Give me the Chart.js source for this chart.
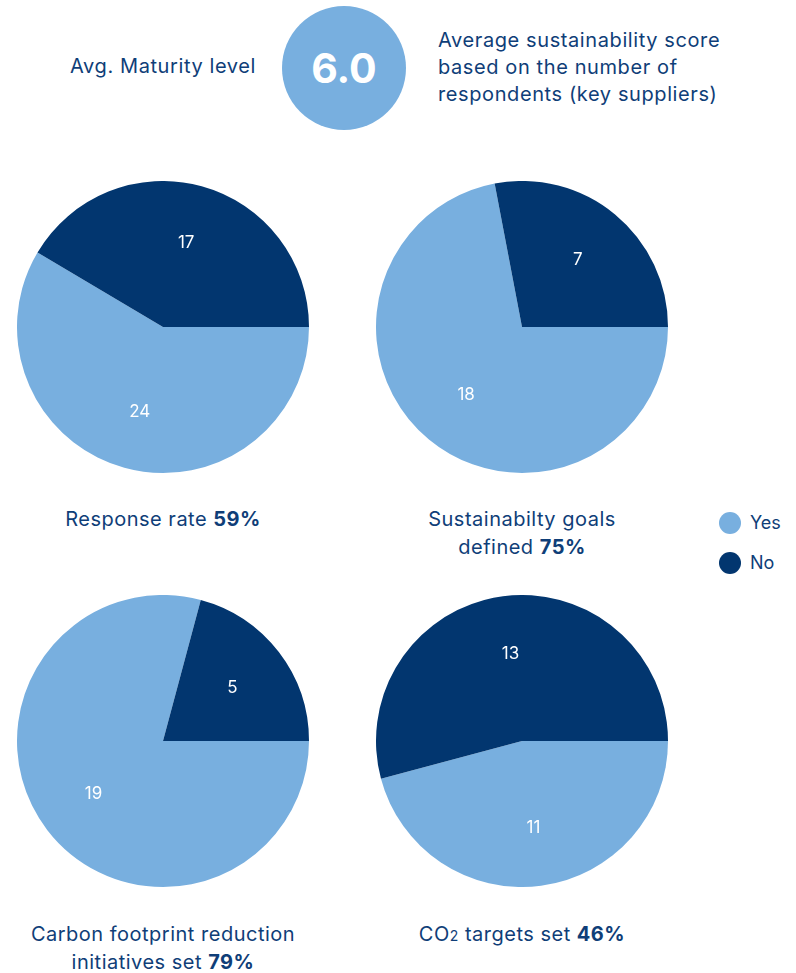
<!DOCTYPE html>
<html>
<head>
<meta charset="utf-8">
<script src="https://cdn.jsdelivr.net/npm/chart.js@4.4.1/dist/chart.umd.min.js"></script>
<style>
  html, body { margin: 0; padding: 0; background: #ffffff; }
  body { width: 796px; height: 973px; position: relative; overflow: hidden;
         font-family: "Inter", "Roboto", sans-serif; color: #0f3e78; }
  .abs { position: absolute; }
  .pie { position: absolute; width: 292px; height: 292px; }
  .caption { position: absolute; width: 340px; text-align: center; font-size: 20px; line-height: 28px; letter-spacing: 0.5px; }
  .caption b { font-weight: 700; }
  #score { left: 282px; top: 6px; width: 124px; height: 124px; border-radius: 50%;
           background: #78afdf; color: #fff; font-weight: 700; font-size: 41px;
           display: flex; align-items: center; justify-content: center; }
  #avgLabel { left: 30px; width: 226px; top: 54px; text-align: right; font-size: 20px; letter-spacing: 0.6px; }
  #avgNote { left: 438px; top: 27px; font-size: 20px; line-height: 27px; letter-spacing: 0.6px; }
  .legend { position: absolute; left: 719px; font-size: 18px; }
  .legend span.dot { position: absolute; left: 0; top: 0; width: 22px; height: 22px; border-radius: 50%; }
  .legend span.txt { position: absolute; left: 31px; top: 0; line-height: 22px; }
</style>
</head>
<body>
<div id="avgLabel" class="abs">Avg. Maturity level</div>
<div id="score" class="abs"></div>
<div id="avgNote" class="abs">Average sustainability score<br>based on the number of<br>respondents (key suppliers)</div>

<canvas id="pie1" class="pie" style="left:17px; top:181px;"></canvas>
<canvas id="pie2" class="pie" style="left:376px; top:181px;"></canvas>
<canvas id="pie3" class="pie" style="left:17px; top:595px;"></canvas>
<canvas id="pie4" class="pie" style="left:376px; top:595px;"></canvas>

<div class="caption" style="left:-7px; top:505px;">Response rate <b>59%</b></div>
<div class="caption" style="left:352px; top:505px;">Sustainabilty goals<br>defined <b>75%</b></div>
<div class="caption" style="left:-7px; top:920px;">Carbon footprint reduction<br>initiatives set <b>79%</b></div>
<div class="caption" style="left:352px; top:920px;">CO<span style="font-size:14px;">2</span> targets set <b>46%</b></div>

<div class="legend" style="top:512px;"><span class="dot" style="background:#78afdf"></span><span class="txt">Yes</span></div>
<div class="legend" style="top:552px;"><span class="dot" style="background:#02366f"></span><span class="txt">No</span></div>

<script>
// Answer categories and colours
const categories = ['Yes', 'No'];
const categoryColors = ['#78afdf', '#02366f'];

// Respondent counts per question, in category order [Yes, No]
const responseRate = [24, 17];
const goalsDefined = [18, 7];
const footprintInitiatives = [19, 5];
const co2Targets = [11, 13];

// Average maturity score
const avgMaturity = 6.0;

document.getElementById('score').textContent = avgMaturity.toFixed(1);

// White count labels placed along each slice's middle angle
const sliceLabels = {
  id: 'sliceLabels',
  afterDatasetsDraw(chart) {
    const ctx = chart.ctx;
    const meta = chart.getDatasetMeta(0);
    const values = chart.data.datasets[0].data;
    ctx.save();
    ctx.fillStyle = '#ffffff';
    ctx.font = '17px Inter, Roboto, sans-serif';
    ctx.textAlign = 'center';
    ctx.textBaseline = 'middle';
    meta.data.forEach((arc, i) => {
      const p = arc.getProps(['x', 'y', 'startAngle', 'endAngle', 'outerRadius'], true);
      const mid = (p.startAngle + p.endAngle) / 2;
      const r = p.outerRadius * 0.6;
      ctx.fillText(String(values[i]), p.x + Math.cos(mid) * r, p.y + Math.sin(mid) * r);
    });
    ctx.restore();
  }
};

function makePie(id, values) {
  new Chart(document.getElementById(id), {
    type: 'pie',
    data: {
      labels: categories,
      datasets: [{
        data: values,
        backgroundColor: categoryColors,
        borderWidth: 0,
        hoverOffset: 0,
        offset: 0
      }]
    },
    options: {
      responsive: false,
      animation: false,
      events: [],
      rotation: 90,
      layout: { padding: 0 },
      plugins: { legend: { display: false }, tooltip: { enabled: false } }
    },
    plugins: [sliceLabels]
  });
}

makePie('pie1', responseRate);
makePie('pie2', goalsDefined);
makePie('pie3', footprintInitiatives);
makePie('pie4', co2Targets);
</script>
</body>
</html>
